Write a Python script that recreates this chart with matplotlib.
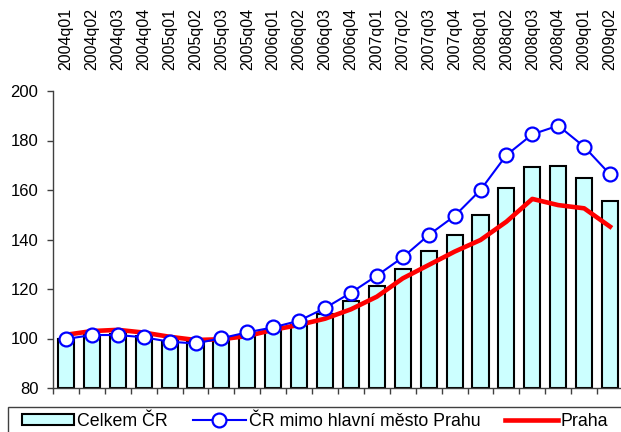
import matplotlib.pyplot as plt
from matplotlib.patches import Rectangle
import numpy as np

plt.rcParams['font.family'] = ['Liberation Sans', 'DejaVu Sans']

quarters = ['2004q01', '2004q02', '2004q03', '2004q04',
            '2005q01', '2005q02', '2005q03', '2005q04',
            '2006q01', '2006q02', '2006q03', '2006q04',
            '2007q01', '2007q02', '2007q03', '2007q04',
            '2008q01', '2008q02', '2008q03', '2008q04',
            '2009q01', '2009q02']

celkem = [100.0, 101.5, 102.0, 101.0, 99.0, 98.5, 99.5, 101.0,
          103.0, 105.5, 110.0, 115.3, 121.1, 128.1, 135.2, 141.9,
          149.9, 160.7, 169.3, 169.7, 164.7, 155.7]

mimo_prahu = [99.8, 101.4, 101.4, 100.5, 98.7, 98.0, 100.1, 102.5,
              104.5, 107.2, 112.3, 118.5, 125.4, 132.8, 141.8, 149.5,
              160.0, 174.1, 182.5, 186.0, 177.5, 166.3]

praha = [101.5, 103.0, 103.5, 102.4, 100.7, 99.4, 99.7, 101.0,
         103.5, 105.5, 108.0, 111.8, 116.9, 124.3, 129.7, 135.1,
         139.8, 147.2, 156.4, 153.9, 152.6, 145.2]

x = np.arange(len(quarters))

W, H = 621, 432
fig = plt.figure(figsize=(W / 100, H / 100), dpi=100)
ax = fig.add_axes([53 / W, 1 - 388 / H, 570 / W, 297 / H])

ax.bar(x, np.array(celkem) - 80, bottom=80, width=0.62, color='#CCFFFF',
       edgecolor='black', linewidth=1.5, label='Celkem ČR', zorder=2)
ax.plot(x, praha, color='#FF0000', lw=3.3, label='Praha', zorder=3,
        solid_joinstyle='round')
ax.plot(x, mimo_prahu, color='#0000FF', lw=1.5, marker='o', markersize=10,
        markerfacecolor='white', markeredgecolor='#0000FF',
        markeredgewidth=1.6, label='ČR mimo hlavní město Prahu', zorder=4)

ax.set_xlim(-0.5, len(quarters) - 0.5)
ax.set_ylim(80, 200)
ax.set_yticks(range(80, 201, 20))

# quarter labels on top, category separators as ticks along the bottom
ax.set_xticks(x)
ax.set_xticklabels(quarters, rotation=90)
ax.set_xticks(np.arange(-0.5, len(quarters)), minor=True)
ax.tick_params(axis='x', which='major', bottom=False, top=False,
               labelbottom=False, labeltop=True, pad=11.5, labelsize=11.5)
ax.tick_params(axis='x', which='minor', bottom=True, direction='out',
               length=4, width=1, color='#404040')
ax.tick_params(axis='y', direction='out', length=4, width=1,
               color='#404040', labelsize=12, pad=6.5)

for side in ('top', 'right'):
    ax.spines[side].set_visible(False)
for side in ('left', 'bottom'):
    ax.spines[side].set_color('#404040')
    ax.spines[side].set_linewidth(1)

handles, labels = ax.get_legend_handles_labels()
order = [labels.index('Celkem ČR'),
         labels.index('ČR mimo hlavní město Prahu'),
         labels.index('Praha')]
fig.legend([handles[i] for i in order], [labels[i] for i in order],
           loc='center left', bbox_to_anchor=(22 / W, 1 - 421.5 / H),
           ncol=3, fontsize=12.8, frameon=False,
           handlelength=2.95, handleheight=0.6, handletextpad=0.17,
           columnspacing=1.4, borderpad=0, borderaxespad=0)

# legend box runs off the right and bottom edges
fig.patches.append(Rectangle((8 / W, -0.05), 1.0, 1 - 407 / H + 0.05,
                             transform=fig.transFigure, fill=False,
                             edgecolor='#404040', linewidth=1))

fig.savefig('out.png', dpi=100)
